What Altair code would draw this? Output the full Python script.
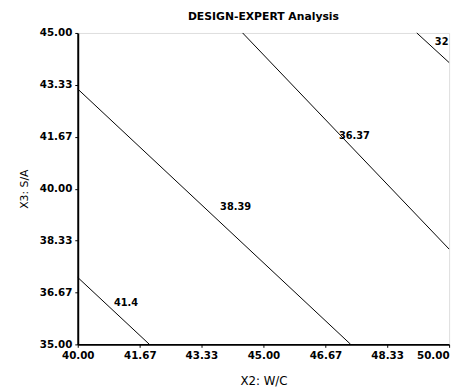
import altair as alt
import pandas as pd

# Contour levels (straight contour segments)
levels = ["41.4", "38.39", "36.37", "32"]
x_start = [40.0, 40.0, 44.44, 49.13]
y_start = [37.15, 43.20, 45.0, 45.0]
x_end = [41.93, 47.35, 50.0, 50.0]
y_end = [35.0, 35.0, 38.06, 44.05]

# Contour label positions
label_x = [41.30, 44.25, 47.45, 49.80]
label_y = [36.33, 39.40, 41.70, 44.72]

x_ticks = [40.0, 41.67, 43.33, 45.0, 46.67, 48.33, 50.0]
y_ticks = [35.0, 36.67, 38.33, 40.0, 41.67, 43.33, 45.0]

rows = []
for i, lv in enumerate(levels):
    rows.append({"level": lv, "x": x_start[i], "y": y_start[i], "o": 0})
    rows.append({"level": lv, "x": x_end[i], "y": y_end[i], "o": 1})
lines_df = pd.DataFrame(rows)
labels_df = pd.DataFrame({"level": levels, "x": label_x, "y": label_y})

FONT = "DejaVu Sans"

xscale = alt.Scale(domain=[40, 50], nice=False, zero=False)
yscale = alt.Scale(domain=[35, 45], nice=False, zero=False)

xaxis = alt.Axis(values=x_ticks, format=".2f", title="X2: W/C", grid=False,
                 labelFont=FONT, labelFontWeight="bold", labelFontSize=10.5,
                 labelColor="black", domainColor="black", domainWidth=2,
                 tickColor="black", tickSize=3, labelPadding=3,
                 labelAlign=alt.ExprRef(expr="datum.value >= 50 ? 'right' : 'center'"),
                 titleFont=FONT, titleFontSize=12, titleFontWeight="normal",
                 titleColor="black", titlePadding=15, labelFlush=False)
yaxis = alt.Axis(values=y_ticks, format=".2f", title="X3: S/A", grid=False,
                 labelFont=FONT, labelFontWeight="bold", labelFontSize=10.5,
                 labelColor="black", domainColor="black", domainWidth=2,
                 tickColor="black", tickSize=3, labelPadding=3,
                 titleFont=FONT, titleFontSize=11, titleFontWeight="normal",
                 titleColor="black", titlePadding=10, labelFlush=False)

lines = alt.Chart(lines_df).mark_line(color="black", strokeWidth=1).encode(
    x=alt.X("x:Q", scale=xscale, axis=xaxis),
    y=alt.Y("y:Q", scale=yscale, axis=yaxis),
    detail="level:N",
    order="o:Q",
)

texts = alt.Chart(labels_df).mark_text(
    font=FONT, fontSize=10, fontWeight="bold", color="black", clip=True
).encode(
    x=alt.X("x:Q", scale=xscale),
    y=alt.Y("y:Q", scale=yscale),
    text="level:N",
)

chart = (lines + texts).properties(
    width=378,
    height=317,
    title=alt.TitleParams("DESIGN-EXPERT Analysis", font=FONT,
                          fontSize=11, fontWeight="bold", color="black", offset=6),
    autosize=alt.AutoSizeParams(type="none"),
    padding={"left": 71, "top": 22, "right": 6, "bottom": 42},
).configure_view(stroke="black", strokeWidth=1.5).configure(background="white")

chart.save("out.html", embed_options={"renderer": "svg", "actions": False})
